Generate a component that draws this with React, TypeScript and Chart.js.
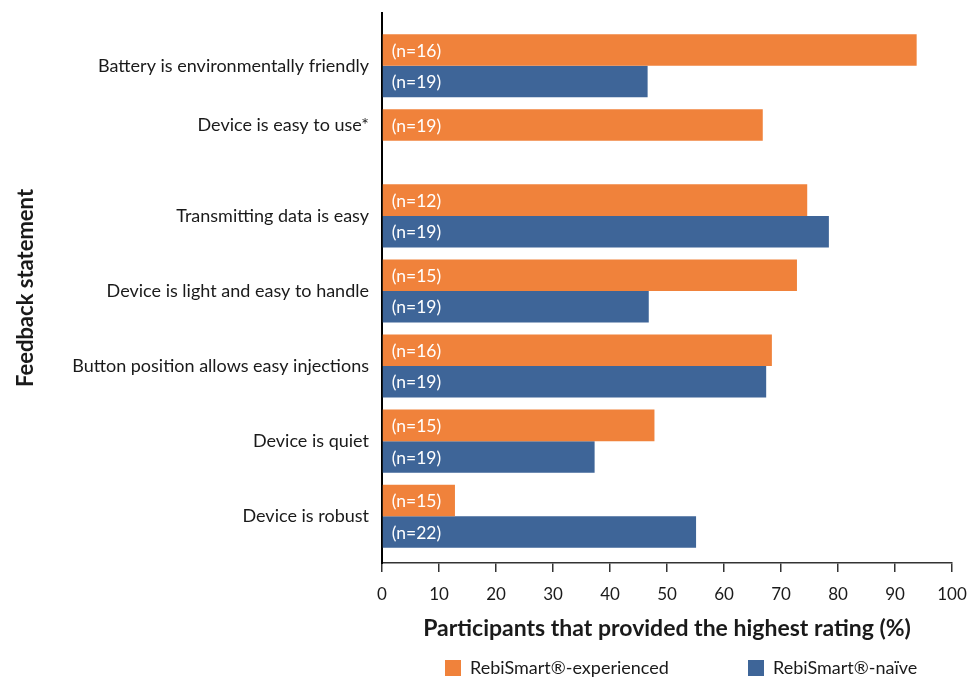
import React, { useEffect, useRef } from "react";
import { Chart, registerables } from "chart.js";

Chart.register(...registerables);

const categories = [
  "Battery is environmentally friendly",
  "Device is easy to use*",
  "Transmitting data is easy",
  "Device is light and easy to handle",
  "Button position allows easy injections",
  "Device is quiet",
  "Device is robust",
];
const experienced: (number | null)[] = [93.8, 66.8, 74.6, 72.8, 68.4, 47.8, 12.8];
const naive: (number | null)[] = [46.6, null, 78.4, 46.8, 67.4, 37.3, 55.1];
const experiencedN: (number | null)[] = [16, 19, 12, 15, 16, 15, 15];
const naiveN: (number | null)[] = [19, null, 19, 19, 19, 19, 22];
const seriesLabels = ["RebiSmart®-experienced", "RebiSmart®-naïve"];
const seriesColors = ["#F0823B", "#3E6598"];
const xTitle = "Participants that provided the highest rating (%)";
const yTitle = "Feedback statement";

const FONT = "Lato, 'Noto Sans', sans-serif";
const TEXT = "#1a1a1a";
const CAT_PCT = 0.84;
const LABEL_SIZE = 18;

const toPoints = (vals: (number | null)[]) =>
  vals
    .map((v, i) => ({ x: v, y: i }))
    .filter((p) => p.x !== null) as { x: number; y: number }[];

const countArrays = [experiencedN, naiveN];

// A category that only has the first series gets its label aligned with that bar
const singleSeries = (i: number) => naive[i] == null;

const barLabelPlugin = {
  id: "barLabels",
  afterDatasetsDraw(chart: any) {
    const { ctx } = chart;
    ctx.save();
    ctx.font = `17.5px ${FONT}`;
    ctx.fillStyle = "#ffffff";
    ctx.textAlign = "left";
    ctx.textBaseline = "middle";
    chart.data.datasets.forEach((ds: any, di: number) => {
      const meta = chart.getDatasetMeta(di);
      meta.data.forEach((el: any, j: number) => {
        const raw = ds.data[j];
        const n = countArrays[di][raw.y];
        if (n == null) return;
        ctx.fillText(`(n=${n})`, el.base + 9, el.y + 1);
      });
    });
    ctx.restore();
  },
};

const legendPlugin = {
  id: "customLegend",
  afterDraw(chart: any) {
    const { ctx, chartArea } = chart;
    const y = chartArea.bottom + 105;
    const xs = [chartArea.left + 63, chartArea.left + 366];
    ctx.save();
    ctx.font = `18px ${FONT}`;
    ctx.textAlign = "left";
    ctx.textBaseline = "middle";
    seriesLabels.forEach((lab, i) => {
      ctx.fillStyle = seriesColors[i];
      ctx.fillRect(xs[i], y - 8, 16, 16);
      ctx.fillStyle = TEXT;
      ctx.fillText(lab, xs[i] + 25, y);
    });
    ctx.restore();
  },
};

export default function App() {
  const ref = useRef<HTMLCanvasElement>(null);

  useEffect(() => {
    if (!ref.current) return;
    const chart = new Chart(ref.current, {
      type: "bar",
      data: {
        datasets: [
          {
            label: seriesLabels[0],
            data: toPoints(experienced),
            backgroundColor: seriesColors[0],
            categoryPercentage: CAT_PCT,
            barPercentage: 1,
          },
          {
            label: seriesLabels[1],
            data: toPoints(naive),
            backgroundColor: seriesColors[1],
            categoryPercentage: CAT_PCT,
            barPercentage: 1,
          },
        ] as any,
      },
      options: {
        indexAxis: "y",
        animation: false,
        responsive: true,
        maintainAspectRatio: false,
        layout: { padding: { top: 13, right: 19, bottom: 39, left: 0 } },
        plugins: {
          legend: { display: false },
          tooltip: { enabled: false },
        },
        scales: {
          x: {
            type: "linear",
            min: 0,
            max: 100,
            ticks: {
              stepSize: 10,
              color: TEXT,
              font: { family: FONT, size: 17 },
              padding: 12,
            },
            grid: {
              drawOnChartArea: false,
              drawTicks: true,
              tickLength: 9,
              color: "#333",
              lineWidth: 1.5,
            },
            border: { display: true, color: "#333", width: 1.5 },
            title: {
              display: true,
              text: xTitle,
              color: TEXT,
              font: { family: FONT, size: 23, weight: "bold", lineHeight: 1 },
              padding: { top: 0, bottom: 0 },
            },
            afterFit: (s: any) => {
              s.height = 77;
              s.paddingLeft = 0;
              s.paddingRight = 0;
            },
          },
          y: {
            type: "linear",
            reverse: true,
            offset: false,
            min: -0.702,
            max: 6.623,
            afterBuildTicks: (scale: any) => {
              scale.ticks = categories.map((_, i) => ({ value: i }));
            },
            ticks: {
              autoSkip: false,
              padding: 0,
              color: TEXT,
              font: (ctx: any) => ({
                family: FONT,
                size: LABEL_SIZE,
                lineHeight: singleSeries(ctx.index) ? 1.75 : 1.2,
              }),
              callback: (_v: any, i: number) =>
                singleSeries(i) ? [categories[i], ""] : categories[i],
            },
            grid: { display: false, offset: false, drawTicks: true, tickLength: 13 },
            border: { display: true, color: "#000", width: 2 },
            title: {
              display: true,
              text: yTitle,
              color: TEXT,
              font: { family: FONT, size: 22, weight: "bold", lineHeight: 1.2 },
              padding: { top: 13, bottom: 4 },
            },
            afterFit: (s: any) => {
              s.width = 382;
              s.paddingTop = 0;
              s.paddingBottom = 0;
            },
          },
        },
      } as any,
      plugins: [barLabelPlugin, legendPlugin],
    });
    return () => chart.destroy();
  }, []);

  return (
    <div style={{ position: "absolute", left: 0, top: 0, width: 971, height: 679 }}>
      <canvas ref={ref} style={{ display: "block" }} />
    </div>
  );
}
